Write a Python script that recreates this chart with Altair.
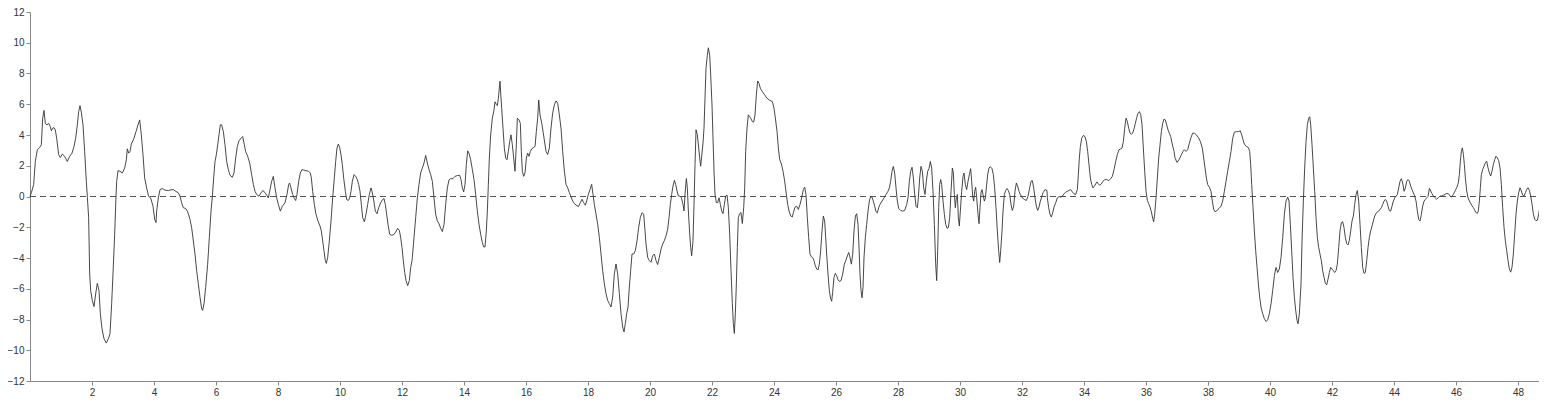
import altair as alt
import pandas as pd

xs = [
0.000,0.043,0.118,0.172,0.237,0.312,0.366,0.409,0.452,0.495,0.548,0.602,0.656,0.688,0.731,0.774,0.817,0.860,0.925,0.978,
1.043,1.118,1.204,1.280,1.355,1.419,1.473,1.527,1.570,1.613,1.656,1.710,1.763,1.817,1.849,1.892,1.925,1.957,2.011,2.065,
2.118,2.172,2.226,2.269,2.323,2.387,2.462,2.527,2.581,2.634,2.677,2.731,2.774,2.796,2.839,2.903,2.978,3.054,3.108,3.140,
3.183,3.226,3.269,3.355,3.419,3.484,3.538,3.591,3.645,3.699,3.763,3.828,3.892,3.968,4.022,4.065,
4.086,4.140,4.194,4.269,4.355,4.462,4.548,4.624,4.699,4.785,4.839,4.892,4.946,5.022,5.086,5.161,5.215,5.269,5.323,5.376,
5.430,5.484,5.538,5.570,5.613,5.667,5.731,5.785,5.839,5.882,5.925,5.968,6.011,6.054,6.097,6.140,6.183,6.237,6.290,6.344,
6.398,6.452,6.527,6.581,6.634,6.688,6.742,6.806,6.860,6.914,6.957,7.022,7.086,7.151,7.204,7.258,7.312,7.387,7.452,7.516,
7.581,7.634,7.688,7.742,7.796,7.849,7.903,7.957,8.011,8.075,8.140,8.226,
8.290,8.344,8.376,8.419,8.473,8.527,8.570,8.613,8.667,8.720,8.774,8.828,8.903,8.989,9.043,9.075,9.118,9.172,9.226,9.290,
9.355,9.398,9.441,9.484,9.527,9.559,9.602,9.656,9.710,9.763,9.817,9.860,9.903,9.946,9.989,10.032,10.075,10.118,10.172,10.215,
10.269,10.312,10.355,10.398,10.452,10.505,10.559,10.602,10.645,10.688,10.731,10.785,10.839,10.892,10.946,11.000,11.032,11.075,11.140,11.194,
11.247,11.312,11.376,11.419,11.462,11.505,11.548,11.602,11.656,11.720,11.785,11.860,11.914,11.957,12.000,12.043,12.086,12.129,12.183,12.237,
12.280,12.323,
12.333,12.387,12.441,12.495,12.548,12.602,12.656,12.710,12.763,12.817,12.871,12.925,12.978,13.032,13.086,13.140,13.194,13.247,13.301,13.355,
13.409,13.462,13.516,13.570,13.645,13.710,13.785,13.860,13.903,13.946,13.989,14.032,14.075,14.118,14.161,14.215,14.269,14.323,14.376,14.430,
14.484,14.538,14.591,14.634,14.677,14.720,14.753,14.785,14.817,14.860,14.914,14.968,15.000,15.043,15.075,15.108,15.160,15.215,15.258,15.301,
15.344,15.387,15.430,15.473,15.516,15.559,15.602,15.645,15.688,15.720,15.774,15.817,15.849,15.882,15.925,15.968,16.011,16.054,16.097,16.140,
16.183,16.247,16.290,16.333,16.376,
16.409,16.452,16.516,16.581,16.645,16.699,16.753,16.806,16.860,16.914,16.968,17.022,17.075,17.129,17.183,17.237,17.290,17.344,17.398,17.452,
17.505,17.559,17.613,17.688,17.753,17.806,17.860,17.914,17.957,18.011,18.065,18.118,18.161,18.204,18.258,18.312,18.366,18.419,18.473,18.527,
18.581,18.634,18.688,18.742,18.796,18.849,18.903,18.957,19.011,19.065,19.118,19.161,19.204,19.247,19.290,19.333,19.376,19.419,19.473,19.527,
19.581,19.634,19.688,19.742,19.796,19.839,19.871,19.925,19.978,20.032,20.086,20.140,20.194,20.247,20.301,20.355,20.409,20.462,20.516,
20.570,20.613,20.656,20.699,20.742,20.785,20.828,20.871,20.914,20.957,21.011,21.065,21.097,21.129,21.172,21.204,21.237,21.280,21.312,21.344,
21.387,21.419,21.452,21.484,21.527,21.570,21.602,21.634,21.667,21.710,21.742,21.774,21.806,21.849,21.882,21.925,21.957,22.000,22.032,22.065,
22.097,22.140,22.183,22.226,22.269,22.312,22.355,22.398,22.441,22.484,22.527,22.570,22.613,22.656,22.688,22.720,22.753,22.785,22.817,22.849,
22.892,22.935,22.978,23.022,23.054,23.086,23.129,23.172,23.215,23.258,23.301,23.344,23.387,23.430,23.473,23.516,23.559,23.624,23.699,23.774,
23.860,23.946,24.000,24.043,24.097,24.140,24.183,24.237,24.290,24.344,24.398,24.441,24.484,24.538,24.591,
24.624,24.677,24.731,24.785,24.839,24.892,24.946,24.989,25.032,25.075,25.118,25.161,25.204,25.247,25.290,25.333,25.376,25.419,25.462,25.505,
25.548,25.591,25.634,25.667,25.699,25.742,25.785,25.828,25.860,25.892,25.935,25.978,26.022,26.065,26.108,26.161,26.215,26.269,26.312,26.366,
26.409,26.452,26.495,26.538,26.581,26.624,26.667,26.710,26.742,26.774,26.806,26.839,26.871,26.903,26.946,26.989,27.032,27.075,27.118,27.161,
27.204,27.247,27.290,27.333,27.376,27.419,27.484,27.548,27.613,27.677,27.720,27.763,27.806,27.849,27.892,27.935,27.978,28.022,28.086,28.151,
28.215,28.280,28.323,28.366,28.409,28.452,28.495,28.538,28.581,28.624,
28.656,28.699,28.742,28.785,28.828,28.871,28.914,28.957,29.000,29.043,29.086,29.129,29.172,29.215,29.247,29.280,29.312,29.344,29.376,29.409,
29.452,29.495,29.538,29.581,29.624,29.667,29.710,29.753,29.785,29.817,29.849,29.882,29.914,29.946,29.978,30.011,30.054,30.097,30.129,30.172,
30.215,30.258,30.301,30.344,30.376,30.409,30.441,30.473,30.505,30.538,30.581,30.613,30.645,30.677,30.710,30.742,30.785,30.817,30.849,30.892,
30.935,30.978,31.032,31.075,31.118,31.161,31.204,31.247,31.280,31.312,31.355,31.387,31.430,31.473,31.516,31.559,31.602,31.645,31.688,31.731,
31.774,31.817,31.860,31.903,31.946,32.011,32.075,32.140,32.194,32.247,32.290,32.333,32.376,32.419,32.462,32.505,32.548,32.591,32.634,32.677,
32.742,32.806,
32.817,32.860,32.903,32.946,32.989,33.032,33.086,33.140,33.194,33.247,33.301,33.355,33.409,33.462,33.516,33.570,33.624,33.677,33.731,33.785,
33.817,33.849,33.882,33.925,33.978,34.032,34.075,34.118,34.161,34.204,34.247,34.290,34.333,34.376,34.419,34.462,34.505,34.559,34.613,34.667,
34.731,34.796,34.860,34.914,34.968,35.022,35.075,35.129,35.183,35.226,35.269,35.312,35.355,35.398,35.441,35.484,35.527,35.570,35.613,35.656,
35.699,35.742,35.785,35.828,35.871,35.914,35.957,36.000,36.043,36.086,36.129,36.172,36.215,36.247,36.280,36.323,36.366,36.409,36.452,36.495,
36.538,36.581,36.624,36.667,36.710,36.753,36.796,36.839,36.903,
36.935,37.000,37.065,37.129,37.194,37.237,37.290,37.344,37.398,37.452,37.505,37.559,37.624,37.688,37.753,37.817,37.860,37.903,37.946,37.989,
38.054,38.097,38.140,38.183,38.226,38.290,38.355,38.419,38.473,38.527,38.581,38.634,38.688,38.742,38.796,38.849,38.914,38.978,39.043,39.086,
39.129,39.172,39.237,39.301,39.344,39.376,39.409,39.452,39.495,39.538,39.581,39.624,39.667,39.710,39.763,39.817,39.871,39.925,39.978,40.032,
40.086,40.140,40.194,40.247,40.301,40.355,40.409,40.462,40.516,40.570,40.613,40.656,40.699,40.742,40.785,40.828,40.871,40.903,40.946,41.000,
41.032,41.075,41.118,41.161,41.204,41.247,41.280,41.312,41.355,41.398,41.441,41.484,41.527,41.570,41.613,41.656,41.699,41.742,41.785,41.828,
41.871,41.914,41.957,42.000,42.043,42.086,42.129,42.172,42.215,42.258,42.301,42.344,42.387,42.430,42.473,42.516,42.559,42.602,42.645,42.688,
42.731,42.774,42.817,42.860,42.903,42.946,42.989,43.032,43.075,43.118,43.161,43.204,43.247,43.290,43.333,43.376,43.419,43.462,43.505,43.548,
43.591,43.634,43.677,43.720,43.763,43.806,43.849,43.892,43.935,43.978,44.022,44.065,44.108,44.151,44.194,44.237,44.280,44.323,44.366,44.409,
44.452,44.495,44.538,44.581,44.624,44.667,44.710,44.753,44.796,44.839,44.882,44.925,44.968,45.011,45.054,45.097,
45.140,45.183,45.226,45.269,45.323,45.376,45.430,45.484,45.538,45.591,45.645,45.699,45.753,45.806,45.860,45.914,45.968,46.022,46.075,46.108,
46.140,46.172,46.204,46.237,46.269,46.301,46.344,46.387,46.430,46.473,46.516,46.559,46.602,46.645,46.688,46.720,46.753,46.785,46.817,46.860,
46.903,46.946,46.989,47.032,47.075,47.118,47.161,47.204,47.247,47.290,47.333,47.376,47.419,47.462,47.505,47.548,47.591,47.634,47.677,47.720,
47.763,47.806,47.849,47.892,47.935,47.978,48.022,48.065,48.108,48.151,48.194,48.237,48.280,48.323,48.366,48.409,48.452,48.495,48.538,48.581,
48.624,48.667,48.710,48.753,48.796,
]

ys = [
0.00,0.24,0.78,2.28,3.04,3.19,3.36,5.09,5.60,4.74,4.66,4.76,4.55,4.27,4.44,4.48,4.33,3.79,2.72,2.54,
2.76,2.61,2.28,2.61,2.82,3.25,3.79,4.66,5.52,5.91,5.47,4.66,2.93,0.99,0.00,-1.38,-5.04,-6.12,-6.77,-7.16,
-6.34,-5.65,-6.12,-7.63,-8.60,-9.25,-9.53,-9.25,-8.92,-6.98,-5.04,-2.46,0.00,0.99,1.68,1.64,1.53,1.85,2.39,3.10,
2.82,2.93,3.41,3.79,4.22,4.66,4.98,4.01,2.72,1.21,0.56,0.00,-0.09,-0.63,-1.49,-1.70,
-0.95,-0.09,0.45,0.52,0.41,0.39,0.43,0.45,0.34,0.24,0.02,-0.41,-0.73,-0.78,-0.99,-1.49,-2.03,-2.89,-3.75,-4.83,
-5.69,-6.55,-7.31,-7.41,-6.98,-5.91,-4.40,-2.67,-0.95,0.00,1.21,2.28,2.72,3.36,4.01,4.66,4.66,4.22,3.36,2.28,
1.75,1.38,1.25,1.53,2.50,3.25,3.62,3.79,3.90,3.36,2.93,2.61,2.18,1.42,0.78,0.34,0.13,0.02,0.24,0.39,
0.24,0.09,-0.09,0.45,0.99,1.31,0.56,-0.09,-0.52,-0.95,-0.63,-0.41,
0.13,0.78,0.88,0.56,0.13,-0.13,-0.26,0.13,0.99,1.53,1.75,1.72,1.68,1.64,1.53,1.21,0.34,-0.52,-1.16,-1.59,
-1.92,-2.24,-2.89,-3.53,-4.18,-4.35,-3.97,-2.89,-1.59,-0.09,1.21,2.28,3.15,3.41,3.19,2.72,2.07,1.21,0.34,-0.19,
-0.26,-0.09,0.34,0.99,1.42,1.31,1.10,0.78,0.34,-0.52,-1.38,-1.64,-1.16,-0.52,0.13,0.56,0.34,-0.09,-0.95,-1.12,
-0.73,-0.41,-0.19,-0.13,-0.52,-1.16,-1.81,-2.46,-2.52,-2.50,-2.35,-2.07,-2.20,-2.67,-3.32,-4.18,-4.94,-5.47,-5.80,-5.47,
-4.61,-4.18,
-3.97,-2.67,-1.38,-0.09,0.78,1.53,1.85,2.18,2.67,2.18,1.75,1.42,0.99,-0.09,-1.16,-1.59,-1.77,-2.07,-2.28,-1.81,
-0.52,0.56,1.08,1.16,1.16,1.31,1.36,1.38,1.10,0.56,0.30,0.78,2.07,2.97,2.82,2.39,1.75,1.10,0.13,-0.95,
-1.81,-2.46,-3.00,-3.28,-3.28,-2.24,-0.95,0.78,2.50,4.01,5.09,5.63,6.16,5.99,5.91,6.38,7.50,5.73,4.44,3.15,
2.50,2.39,2.93,3.58,4.01,3.36,2.50,1.64,3.36,5.09,4.98,4.76,2.93,1.64,1.31,1.53,2.50,2.82,2.61,2.93,
3.10,3.19,3.25,4.22,5.09,
6.28,5.31,4.67,3.80,2.94,2.73,3.16,4.45,5.42,5.96,6.22,6.07,5.31,4.45,2.94,1.65,0.79,0.57,0.25,-0.03,
-0.29,-0.46,-0.55,-0.66,-0.40,-0.18,-0.40,-0.57,-0.29,0.14,0.46,0.79,0.14,-0.51,-1.15,-1.80,-2.66,-3.74,-4.82,-5.68,
-6.33,-6.76,-6.97,-7.19,-6.54,-5.03,-4.39,-5.03,-6.33,-7.62,-8.48,-8.81,-8.26,-7.62,-7.19,-5.89,-4.82,-3.74,-3.74,-3.52,
-2.88,-2.02,-1.37,-1.05,-1.15,-2.23,-3.09,-3.96,-4.17,-4.28,-3.85,-3.74,-4.17,-4.43,-3.96,-3.42,-3.09,-2.88,-2.56,
-2.12,-1.37,-0.51,0.14,0.68,1.05,0.79,0.36,0.03,0.03,-0.08,-0.51,-0.94,0.14,1.17,0.57,-0.94,-2.45,-3.31,-3.85,
-2.88,-0.51,2.08,4.34,4.02,3.16,2.51,1.97,2.62,3.48,4.45,6.39,8.33,9.19,9.67,9.19,7.90,5.96,3.80,1.65,
0.14,-0.40,-0.40,-0.08,-0.51,-0.94,-1.11,-0.51,0.03,0.10,-0.72,-2.45,-4.82,-6.97,-8.26,-8.91,-7.62,-5.68,-3.31,-1.37,
-1.11,-1.04,-1.76,-0.72,0.57,2.94,4.45,5.31,5.20,5.05,4.88,4.84,5.31,6.61,7.51,7.36,7.04,6.82,6.61,6.39,
6.26,6.17,5.74,5.10,4.24,3.16,2.40,2.12,1.65,1.00,0.14,-0.51,-0.94,-1.26,-1.33,
-1.06,-0.69,-0.63,-0.84,-0.52,-0.09,0.45,0.60,0.13,-1.38,-2.67,-3.75,-3.92,-3.97,-4.18,-4.50,-4.72,-4.78,-4.40,-3.53,
-2.24,-1.27,-1.59,-2.67,-3.75,-5.04,-6.12,-6.66,-6.81,-6.23,-5.26,-5.00,-5.15,-5.41,-5.52,-5.47,-5.04,-4.40,-4.18,-3.86,
-3.64,-3.97,-4.40,-3.75,-2.24,-1.27,-1.12,-1.81,-3.32,-5.04,-6.12,-6.59,-5.91,-3.97,-2.67,-1.81,-0.95,-0.30,0.00,-0.04,
-0.30,-0.63,-0.99,-1.06,-0.73,-0.52,-0.30,-0.09,0.13,0.34,0.56,0.99,1.64,1.96,1.53,0.56,-0.30,-0.78,-0.91,-0.95,
-0.91,-0.52,-0.09,0.99,1.64,1.90,1.21,0.13,-0.63,-0.73,
-0.09,1.21,1.96,1.64,0.56,0.13,0.99,1.64,1.81,2.28,1.85,0.34,-1.81,-4.40,-5.47,-3.53,-0.73,0.78,1.10,0.78,
-0.30,-1.16,-1.81,-2.07,-2.03,-1.38,0.34,1.85,1.53,0.13,-0.73,-0.09,0.13,-1.38,-1.92,-0.95,0.34,1.31,1.53,0.78,
0.45,0.99,1.42,1.81,0.99,0.02,-0.30,0.34,0.60,-0.09,-1.16,-1.77,-0.73,0.24,0.45,0.13,-0.30,-0.09,0.56,1.42,
1.85,1.94,1.81,1.42,0.56,-0.73,-2.24,-3.53,-4.29,-3.53,-2.24,-0.95,0.13,0.39,0.52,0.39,0.13,-0.52,-0.91,-0.63,
0.34,0.88,0.67,0.34,0.13,-0.09,-0.19,-0.26,0.02,0.56,0.99,1.03,0.56,-0.09,-0.63,-0.91,-0.69,-0.30,-0.04,0.24,
0.45,0.39,
-0.09,-0.73,-1.16,-1.34,-1.06,-0.69,-0.41,-0.09,0.00,-0.04,0.02,0.17,0.28,0.34,0.39,0.45,0.30,0.17,0.13,0.45,
1.42,2.50,3.25,3.79,3.97,3.90,3.58,2.93,2.07,1.21,0.78,0.56,0.67,0.82,0.95,0.82,0.73,0.82,0.99,1.10,
1.10,1.03,1.16,1.31,1.75,2.28,2.72,3.04,3.10,3.15,3.58,4.44,5.09,4.87,4.44,4.12,4.05,4.12,4.40,4.76,
5.13,5.41,5.52,5.34,4.66,3.15,1.64,0.34,-0.26,-0.47,-0.69,-0.99,-1.42,-1.64,-1.16,-0.09,1.21,2.50,3.36,4.22,
4.76,5.04,4.98,4.66,4.33,4.12,3.90,3.47,2.93,
2.50,2.22,2.39,2.67,2.93,3.04,2.93,3.04,3.47,3.84,4.12,4.12,4.01,3.84,3.58,3.15,2.50,1.85,1.21,0.78,
0.56,0.34,-0.30,-0.84,-0.99,-0.91,-0.78,-0.63,-0.30,0.34,0.99,1.64,2.28,2.93,3.79,4.18,4.22,4.22,4.27,4.01,
3.69,3.41,3.25,3.19,2.93,2.07,0.78,-0.73,-2.24,-3.53,-4.61,-5.69,-6.55,-7.20,-7.63,-7.95,-8.13,-8.02,-7.63,-6.98,
-6.12,-5.15,-4.61,-4.94,-4.72,-3.97,-2.67,-1.16,-0.30,-0.04,-0.30,-1.81,-3.53,-5.26,-6.55,-7.41,-8.06,-8.28,-7.63,-5.69,
-2.89,-0.30,1.85,3.58,4.66,5.09,5.19,4.66,3.36,1.85,0.34,-1.38,-2.67,-3.32,-3.75,-4.18,-4.83,-5.26,-5.65,-5.75,
-5.37,-4.94,-4.61,-4.72,-4.83,-4.94,-4.83,-4.40,-3.32,-2.24,-1.70,-1.64,-2.03,-2.67,-3.06,-3.15,-2.84,-2.24,-1.59,-1.27,
-0.52,0.13,0.39,-0.30,-1.81,-3.32,-4.61,-5.00,-4.94,-4.18,-3.32,-2.67,-2.24,-1.92,-1.59,-1.27,-1.12,-0.99,-0.95,-0.84,
-0.73,-0.52,-0.30,-0.19,-0.30,-0.63,-0.91,-0.95,-0.63,-0.30,-0.09,0.02,0.13,0.56,0.99,1.16,0.88,0.34,0.56,0.99,
1.10,0.99,0.67,0.45,0.24,0.02,-0.30,-0.95,-1.49,-1.59,-1.16,-0.63,-0.30,-0.19,-0.09,0.00,
0.53,0.36,0.18,0.03,-0.08,-0.18,-0.08,0.03,0.03,0.08,0.14,0.20,0.18,0.03,-0.03,0.14,0.36,0.57,0.89,1.43,
2.30,2.94,3.16,2.73,2.08,1.22,0.36,-0.08,-0.29,-0.44,-0.61,-0.72,-0.89,-1.05,-1.09,-0.94,-0.29,0.57,1.43,1.76,
1.97,2.19,2.30,1.86,1.54,1.33,1.65,2.08,2.40,2.62,2.51,2.34,1.86,0.79,-0.72,-2.01,-2.88,-3.52,-4.17,-4.71,
-4.92,-4.60,-3.74,-2.45,-1.15,-0.29,0.25,0.57,0.36,0.08,0.03,0.25,0.46,0.57,0.40,0.03,-0.51,-1.15,-1.48,-1.58,
-1.54,-1.15,-0.61,-0.40,-0.33,
]

x_ticks = list(range(2, 49, 2))
y_ticks = list(range(-12, 13, 2))

n = min(len(xs), len(ys))
df = pd.DataFrame({"x": xs[:n], "y": ys[:n]})
zero_df = pd.DataFrame({"x": [0.0], "x2": [48.87], "y": [0.0]})

xscale = alt.Scale(domain=[0, 48.87], nice=False, zero=False)
yscale = alt.Scale(domain=[-12, 12], nice=False)

xaxis = alt.Axis(values=x_ticks, title=None, grid=False, labelFontSize=10, labelColor="#333",
                 domainColor="#888", tickColor="#888", tickSize=4, labelFont="Liberation Sans", labelPadding=2)
yaxis = alt.Axis(values=y_ticks, title=None, grid=False, labelFontSize=10, labelColor="#333",
                 domainColor="#888", tickColor="#888", tickSize=4, labelFont="Liberation Sans", labelPadding=2)

zero_line = alt.Chart(zero_df).mark_rule(color="#555", strokeWidth=1, strokeDash=[6, 4]).encode(
    x=alt.X("x:Q", scale=xscale, axis=xaxis),
    x2="x2:Q",
    y=alt.Y("y:Q", scale=yscale, axis=yaxis),
)

line = alt.Chart(df).mark_line(color="#333", strokeWidth=0.9, interpolate="linear").encode(
    x=alt.X("x:Q", scale=xscale, axis=xaxis),
    y=alt.Y("y:Q", scale=yscale, axis=yaxis),
    order="x:Q",
)

chart = alt.layer(zero_line, line).properties(
    width=1515, height=369,
    autosize=alt.AutoSizeParams(type="none"),
    padding={"left": 22, "top": 4, "right": -6, "bottom": 16},
).configure_view(stroke=None)

chart.save("out.html", embed_options={"renderer": "svg", "actions": False})
